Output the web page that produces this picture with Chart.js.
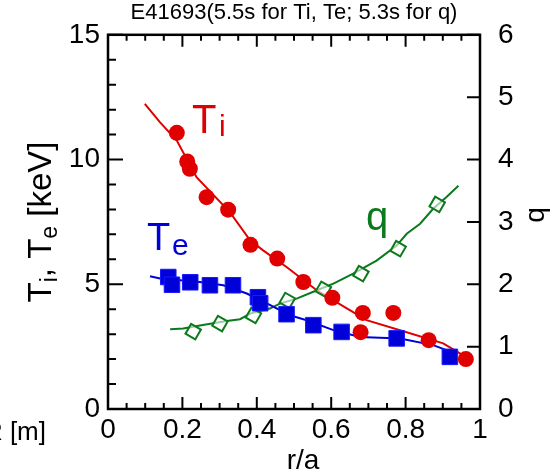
<!DOCTYPE html>
<html>
<head>
<meta charset="utf-8">
<script src="https://cdn.jsdelivr.net/npm/chart.js@4.4.0/dist/chart.umd.min.js"></script>
<style>
html, body { margin: 0; padding: 0; background: #fff; }
#wrap { position: relative; width: 550px; height: 474px; }
</style>
</head>
<body>
<div id="wrap"><canvas id="profileChart" width="550" height="474"></canvas></div>
<script>
// measured Ti points (r/a, keV)
const tiR   = [0.185, 0.213, 0.220, 0.265, 0.323, 0.383, 0.455, 0.525, 0.603, 0.685, 0.767, 0.679, 0.862, 0.962];
const tiVal = [11.07, 9.92, 9.63, 8.49, 7.99, 6.58, 6.03, 5.09, 4.46, 3.85, 3.85, 3.08, 2.76, 2.00];
// Ti fit
const tiFitR   = [0.099, 0.140, 0.185, 0.238, 0.328, 0.382, 0.417, 0.480, 0.561, 0.642, 0.695, 0.785, 0.901, 0.946, 0.962];
const tiFitVal = [12.23, 11.49, 10.76, 9.29, 7.88, 6.76, 6.36, 5.69, 4.76, 4.03, 3.56, 3.16, 2.63, 2.23, 2.04];

// measured Te points
const teR   = [0.162, 0.172, 0.221, 0.274, 0.336, 0.403, 0.409, 0.480, 0.552, 0.628, 0.776, 0.919];
const teVal = [5.29, 4.98, 5.08, 4.96, 4.96, 4.48, 4.24, 3.80, 3.36, 3.09, 2.83, 2.09];
// Te fit
const teFitR   = [0.113, 0.140, 0.194, 0.247, 0.310, 0.373, 0.427, 0.489, 0.534, 0.606, 0.677, 0.785, 0.874, 0.910, 0.937];
const teFitVal = [5.32, 5.23, 5.16, 5.09, 4.96, 4.63, 4.23, 3.76, 3.56, 3.16, 2.89, 2.83, 2.56, 2.36, 2.16];

// q points and fit (right axis)
const qR   = [0.229, 0.301, 0.391, 0.482, 0.579, 0.680, 0.780, 0.885];
const qVal = [1.24, 1.37, 1.50, 1.74, 1.92, 2.17, 2.57, 3.28];
const qFitR   = [0.167, 0.202, 0.247, 0.319, 0.355, 0.382, 0.435, 0.462, 0.507, 0.552, 0.606, 0.659, 0.722, 0.776, 0.803, 0.839, 0.874, 0.910, 0.942];
const qFitVal = [1.28, 1.29, 1.34, 1.41, 1.44, 1.53, 1.61, 1.69, 1.77, 1.88, 2.01, 2.17, 2.38, 2.62, 2.81, 2.97, 3.21, 3.40, 3.58];

const titleText = 'E41693(5.5s for Ti, Te; 5.3s for q)';

const RED = '#e00000';
const BLUE = '#0000d8';
const GREEN = '#0b7a1c';
const FONT = 'Arial, "Liberation Sans", sans-serif';

function pts(xs, ys) {
    return xs.map((x, i) => ({ x: x, y: ys[i] }));
}

// frame, inward ticks and the free text
const framePlugin = {
    id: 'framePlugin',
    afterDraw(chart) {
        const ctx = chart.ctx;
        const a = chart.chartArea;
        const sx = chart.scales.x, sy = chart.scales.y, sq = chart.scales.y2;
        ctx.save();
        ctx.strokeStyle = '#000';
        ctx.lineWidth = 2.5;
        ctx.strokeRect(a.left, a.top, a.right - a.left, a.bottom - a.top);

        ctx.lineWidth = 2;
        ctx.beginPath();
        for (let i = 0; i <= 20; i++) {
            const px = sx.getPixelForValue(i * 0.05);
            const len = (i % 4 === 0) ? 12 : 6;
            ctx.moveTo(px, a.bottom); ctx.lineTo(px, a.bottom - len);
            ctx.moveTo(px, a.top); ctx.lineTo(px, a.top + len);
        }
        for (let v = 0; v <= 15; v++) {
            const py = sy.getPixelForValue(v);
            const len = (v % 5 === 0) ? 15 : 8;
            ctx.moveTo(a.left, py); ctx.lineTo(a.left + len, py);
        }
        for (let v = 0; v <= 6; v++) {
            const py = sq.getPixelForValue(v);
            ctx.moveTo(a.right, py); ctx.lineTo(a.right - 13, py);
        }
        ctx.stroke();

        ctx.fillStyle = '#000';
        ctx.textBaseline = 'middle';
        ctx.textAlign = 'center';
        ctx.font = '22px ' + FONT;
        ctx.fillText(titleText, 294, 13);

        ctx.font = '28px ' + FONT;
        ctx.fillText('r/a', 303, 461);
        ctx.textAlign = 'right';
        ctx.font = '26px ' + FONT;
        ctx.fillText('R [m]', 46, 433);

        // left axis title with subscripts
        ctx.save();
        ctx.translate(51, 222);
        ctx.rotate(-Math.PI / 2);
        const parts = [['T', 0], ['i', 1], [', T', 0], ['e', 1], [' [keV]', 0]];
        let w = 0;
        parts.forEach(p => {
            ctx.font = (p[1] ? '23px ' : '33px ') + FONT;
            w += ctx.measureText(p[0]).width;
        });
        let xx = -w / 2;
        ctx.textAlign = 'left';
        ctx.textBaseline = 'alphabetic';
        parts.forEach(p => {
            ctx.font = (p[1] ? '23px ' : '33px ') + FONT;
            ctx.fillText(p[0], xx, p[1] ? 6 : 0);
            xx += ctx.measureText(p[0]).width;
        });
        ctx.restore();

        // right axis title
        ctx.save();
        ctx.translate(544, 215);
        ctx.rotate(-Math.PI / 2);
        ctx.textAlign = 'center';
        ctx.textBaseline = 'alphabetic';
        ctx.font = '28px ' + FONT;
        ctx.fillText('q', 0, 0);
        ctx.restore();

        // series labels in the plot
        ctx.textAlign = 'left';
        ctx.textBaseline = 'alphabetic';
        ctx.fillStyle = RED;
        ctx.font = '40px ' + FONT;
        ctx.fillText('T', 192, 133);
        ctx.font = '30px ' + FONT;
        ctx.fillText('i', 219, 136);
        ctx.fillStyle = BLUE;
        ctx.font = '38px ' + FONT;
        ctx.fillText('T', 147, 250);
        ctx.font = '30px ' + FONT;
        ctx.fillText('e', 172, 255);
        ctx.fillStyle = GREEN;
        ctx.font = '40px ' + FONT;
        ctx.fillText('q', 366, 230);
        ctx.restore();
    }
};

const tickFont = { family: FONT, size: 28 };

const profileChart = new Chart(document.getElementById('profileChart'), {
    type: 'scatter',
    data: {
        datasets: [
            { data: pts(tiR, tiVal), yAxisID: 'y', order: 1, pointStyle: 'circle', pointRadius: 8,
              backgroundColor: RED, borderColor: RED, borderWidth: 0 },
            { data: pts(teR, teVal), yAxisID: 'y', order: 2, pointStyle: 'rect', pointRadius: 11,
              backgroundColor: BLUE, borderColor: '#1a1aff', borderWidth: 1 },
            { data: pts(qR, qVal), yAxisID: 'y2', order: 3, pointStyle: 'rect', rotation: 30, pointRadius: 8,
              backgroundColor: 'rgba(255,255,255,0.6)', borderColor: GREEN, borderWidth: 2 },
            { data: pts(tiFitR, tiFitVal), yAxisID: 'y', order: 4, showLine: true, pointRadius: 0,
              borderColor: RED, borderWidth: 2 },
            { data: pts(teFitR, teFitVal), yAxisID: 'y', order: 5, showLine: true, pointRadius: 0,
              borderColor: BLUE, borderWidth: 2 },
            { data: pts(qFitR, qFitVal), yAxisID: 'y2', order: 6, showLine: true, pointRadius: 0,
              borderColor: GREEN, borderWidth: 2 }
        ]
    },
    options: {
        responsive: false,
        animation: false,
        devicePixelRatio: 1,
        layout: { padding: { top: 34, left: 0, right: 0, bottom: 0 } },
        plugins: { legend: { display: false }, tooltip: { enabled: false } },
        scales: {
            x: {
                type: 'linear', min: 0, max: 1,
                grid: { display: false, drawTicks: false }, border: { display: false },
                ticks: { stepSize: 0.2, font: tickFont, color: '#000', padding: 4, maxRotation: 0,
                         callback: v => String(+v.toFixed(1)) },
                afterFit: s => { s.height = 65; }
            },
            y: {
                position: 'left', min: 0, max: 15,
                grid: { display: false, drawTicks: false }, border: { display: false },
                ticks: { stepSize: 5, font: tickFont, color: '#000', padding: 8 },
                afterFit: s => { s.width = 108; }
            },
            y2: {
                position: 'right', min: 0, max: 6,
                grid: { display: false, drawTicks: false }, border: { display: false },
                ticks: { stepSize: 1, font: tickFont, color: '#000', padding: 18 },
                afterFit: s => { s.width = 70; }
            }
        }
    },
    plugins: [framePlugin]
});
</script>
</body>
</html>
